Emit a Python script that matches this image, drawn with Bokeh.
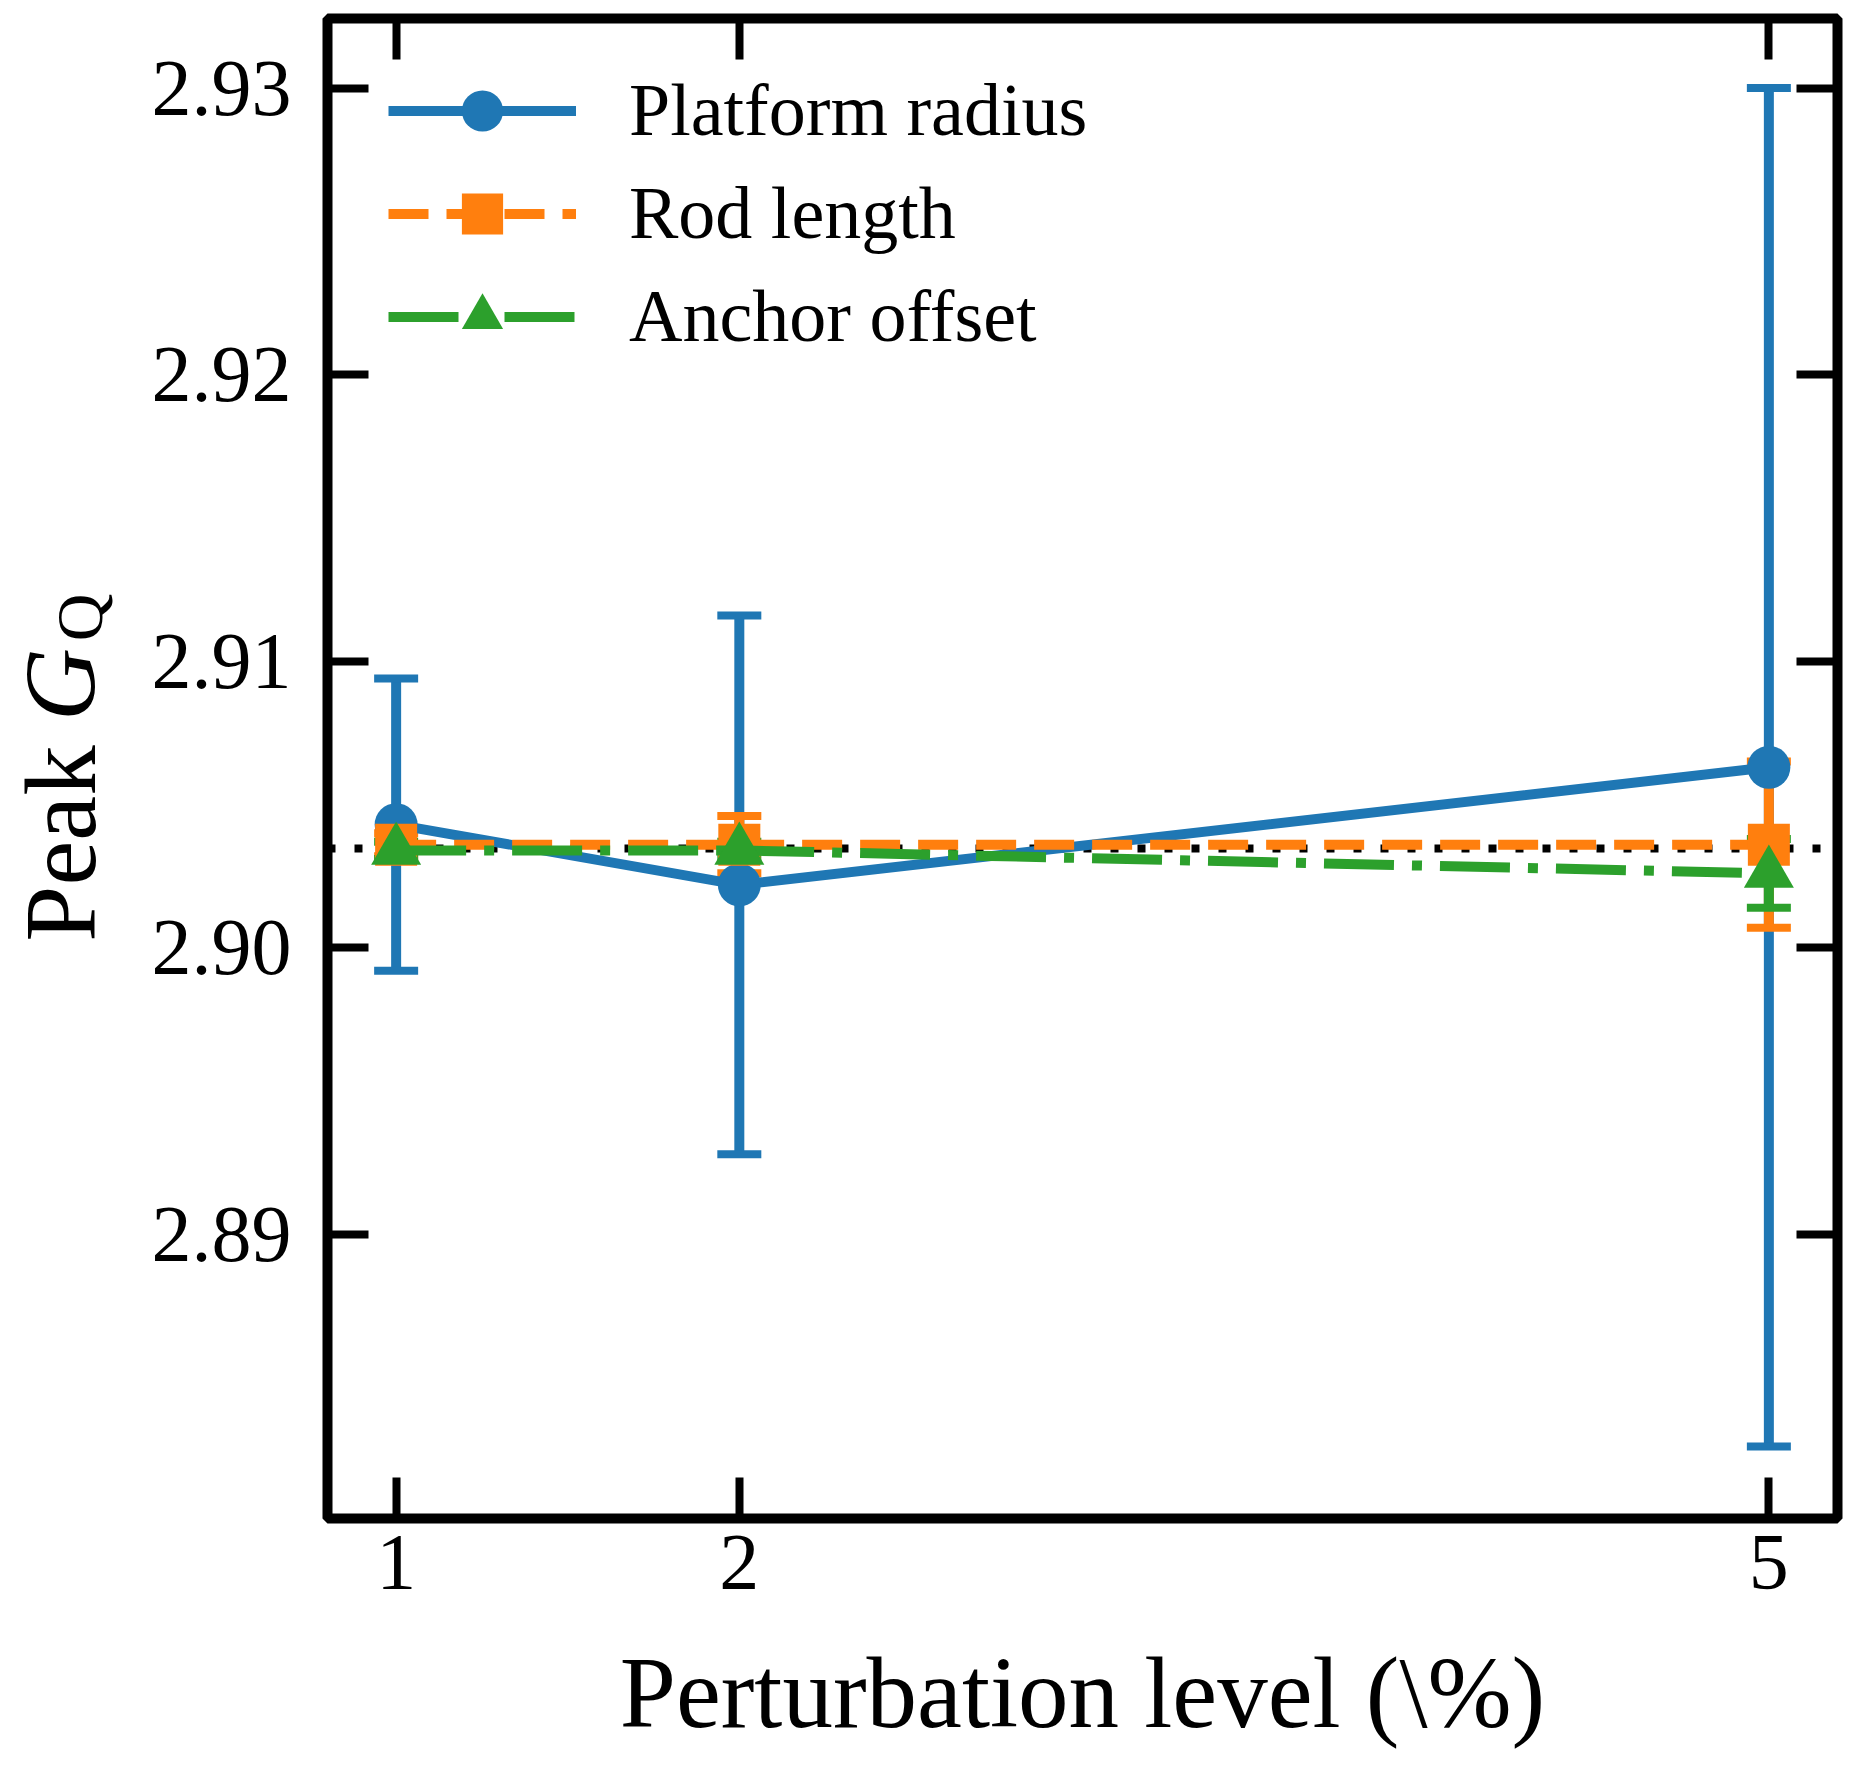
import math
from bokeh.plotting import figure
from bokeh.layouts import row
from bokeh.models import (ColumnDataSource, Range1d, FixedTicker, PrintfTickFormatter,
                          LinearAxis, Whisker, TeeHead, Span, Legend, LegendItem, Label)
from bokeh.embed import file_html
from bokeh.resources import INLINE

# ---------------- data ----------------
levels = [1, 2, 5]
platform_mean = [2.9043, 2.9022, 2.9063]
platform_err = [0.0051, 0.0094, 0.0237]
rod_mean = [2.9036, 2.9036, 2.9036]
rod_err = [0.0004, 0.0010, 0.0029]
anchor_mean = [2.9034, 2.9034, 2.9026]
anchor_err = [0.0003, 0.0003, 0.0012]
reference_value = 2.90347
x_ticks = [1, 2, 5]
y_ticks = [2.89, 2.90, 2.91, 2.92, 2.93]
series_names = ["Platform radius", "Rod length", "Anchor offset"]
x_title = "Perturbation level (\\%)"
y_title_parts = ["Peak", "G", "Q"]

BLUE, ORANGE, GREEN = "#1f77b4", "#ff7f0e", "#2ca02c"
FONT = "Liberation Serif"
LABEL_W = 140
H = 1763
FRAME_TOP, FRAME_H = 18, 1500

p = figure(frame_width=1510, frame_height=FRAME_H,
           min_border_left=327 - LABEL_W, min_border_right=16, min_border_top=FRAME_TOP,
           min_border_bottom=H - FRAME_TOP - FRAME_H,
           x_range=Range1d(0.8, 5.2), y_range=Range1d(2.880091, 2.932425),
           output_backend="svg", toolbar_location=None,
           background_fill_color="white", border_fill_color="white")
p.grid.visible = False
p.outline_line_color = "black"
p.outline_line_width = 10
p.outline_line_alpha = 1.0


def style_axis(ax, show_labels, size="80px", standoff=17):
    ax.axis_line_color = None
    ax.major_tick_in = 41
    ax.major_tick_out = 0
    ax.major_tick_line_width = 8
    ax.major_tick_line_color = "black"
    ax.minor_tick_line_color = None
    ax.major_label_text_font = FONT
    if show_labels:
        ax.major_label_text_font_size = size
        ax.major_label_standoff = standoff
        ax.major_label_text_color = "black"
    else:
        ax.major_label_text_font_size = "0px"
        ax.major_label_standoff = 0
        ax.major_label_text_alpha = 0


xax = p.xaxis[0]
yax = p.yaxis[0]
xax.ticker = FixedTicker(ticks=x_ticks)
xax.formatter = PrintfTickFormatter(format="%d")
yax.ticker = FixedTicker(ticks=y_ticks)
yax.formatter = PrintfTickFormatter(format="%.2f")
style_axis(xax, True, standoff=17)
style_axis(yax, True, standoff=36)
xax.axis_label = x_title
xax.axis_label_text_font = FONT
xax.axis_label_text_font_size = "101px"
xax.axis_label_text_font_style = "normal"
xax.axis_label_standoff = 45
xax.axis_label_text_color = "black"

top_ax = LinearAxis(ticker=FixedTicker(ticks=x_ticks))
right_ax = LinearAxis(ticker=FixedTicker(ticks=y_ticks))
style_axis(top_ax, False)
style_axis(right_ax, False)
p.add_layout(top_ax, "above")
p.add_layout(right_ax, "right")

# reference line
p.add_layout(Span(location=reference_value, dimension="width", line_color="black",
                  line_width=8, line_dash="8 19", level="underlay"))

series = [
    (platform_mean, platform_err, BLUE, "solid", "circle", 43),
    (rod_mean, rod_err, ORANGE, "40 18", "square", 42),
    (anchor_mean, anchor_err, GREEN, "70 18 10 18", "triangle", 50),
]

items = []
for name, (mean, err, color, dash, marker, msize) in zip(series_names, series):
    src = ColumnDataSource(dict(
        x=levels, y=mean,
        upper=[m + e for m, e in zip(mean, err)],
        lower=[m - e for m, e in zip(mean, err)],
    ))
    p.add_layout(Whisker(source=src, base="x", upper="upper", lower="lower",
                         dimension="height", line_color=color, line_width=10,
                         upper_head=TeeHead(size=44, line_color=color, line_width=8),
                         lower_head=TeeHead(size=44, line_color=color, line_width=8)))
    r_line = p.line("x", "y", source=src, line_color=color, line_width=10, line_dash=dash)
    r_mark = p.scatter("x", "y", source=src, marker=marker, size=msize,
                       fill_color=color, line_color=None)
    items.append(LegendItem(label=name, renderers=[r_line, r_mark]))

legend = Legend(items=items, location=(61, 1150), orientation="vertical",
                glyph_width=188, glyph_height=103, label_standoff=53,
                spacing=0, padding=0, margin=0,
                label_text_font=FONT, label_text_font_size="74px",
                label_text_color="black", label_text_baseline="middle",
                border_line_color=None, background_fill_alpha=0)
p.add_layout(legend, "center")

# ---- narrow strip on the left carrying the y-axis title "Peak G_Q" ----
# (its frame is aligned by the row layout with the main frame: picture y 18..1518)
lab = figure(width=LABEL_W, height=H, min_border=0,
             x_range=Range1d(0, LABEL_W), y_range=Range1d(0, FRAME_H),
             x_axis_location=None, y_axis_location=None,
             output_backend="svg", toolbar_location=None,
             background_fill_color="white", border_fill_color="white")
lab.grid.visible = False
lab.outline_line_color = None


def ytitle(text, cx, cy, size, style="normal"):
    # cx, cy: centre of the rotated text, in picture pixels from the top-left
    lab.add_layout(Label(x=cx, y=FRAME_TOP + FRAME_H - cy, text=text, angle=math.pi / 2,
                         text_font=FONT, text_font_size=size, text_font_style=style,
                         text_align="center", text_baseline="middle",
                         text_color="black"))


ytitle(y_title_parts[0], 60, 843, "101px")
ytitle(y_title_parts[1], 60, 684, "101px", "italic")
ytitle(y_title_parts[2], 79, 617, "66px")

layout = row(lab, p, spacing=0)
open("out.html", "w").write(file_html(layout, INLINE))
